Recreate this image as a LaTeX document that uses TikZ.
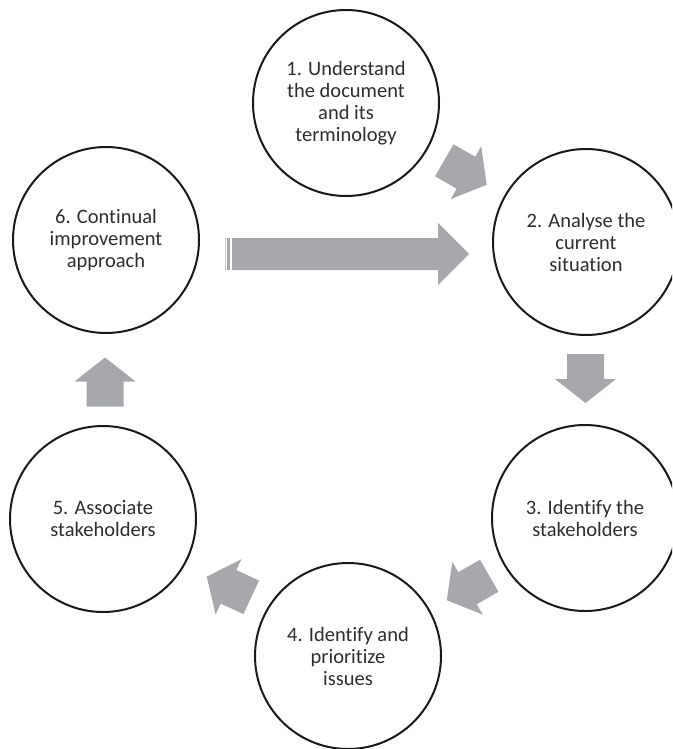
\documentclass[tikz,border=0pt]{standalone}
\usepackage{fontspec}
\setmainfont{Carlito}[Ligatures={NoCommon}]
\definecolor{arrgray}{HTML}{A7A8AB}
\definecolor{stripegray}{HTML}{C9CACC}
\definecolor{ink}{HTML}{1A1A1A}
\definecolor{txt}{HTML}{2E2E2E}
\tikzset{
  stagecirc/.style={circle, draw=ink, line width=2pt, minimum size=186pt, inner sep=0pt,
    align=center, text=txt, font={\fontsize{20.5}{22}\selectfont}},
  blockarr/.pic={
    \fill[arrgray] (-24.5,-18.5) -- (0.5,-18.5) -- (0.5,-30.5) -- (24.5,0)
      -- (0.5,30.5) -- (0.5,18.5) -- (-24.5,18.5) -- cycle;
  }
}
\begin{document}
\begin{tikzpicture}[x=1pt,y=-1pt]
\useasboundingbox (0,0) rectangle (672,749);
\clip (0,0) rectangle (672,749);
\fill[white] (0,0) rectangle (672,749);

% stages
\node[stagecirc] (c1) at (346,103) {1. Understand\\the document\\and its\\terminology};
\node[stagecirc] (c2) at (586,242) {2. Analyse the\\current\\situation};
\node[stagecirc] (c3) at (585,518) {3. Identify the\\stakeholders};
\node[stagecirc] (c4) at (348,656) {4. Identify and\\prioritize\\issues};
\node[stagecirc] (c5) at (103,519) {5. Associate\\stakeholders};
\node[stagecirc] (c6) at (106,240) {6. Continual\\improvement\\approach};

% block arrows between stages
\pic[rotate=-30] at (465.5,172.5) {blockarr};
\pic[rotate=-90] at (585.5,378.5) {blockarr};
\pic[rotate=210] at (468,588) {blockarr};
\pic[rotate=155] at (229,587) {blockarr};
\pic[rotate=90] at (105,382) {blockarr};

% big striped arrow from 6 to 2
\fill[stripegray] (224.5,238) rectangle (226,270);
\fill[arrgray] (227,238) rectangle (230,270);
\fill[arrgray] (232,238) -- (438,238) -- (438,223) -- (469,254) -- (438,285)
  -- (438,270) -- (232,270) -- cycle;
\end{tikzpicture}
\end{document}
